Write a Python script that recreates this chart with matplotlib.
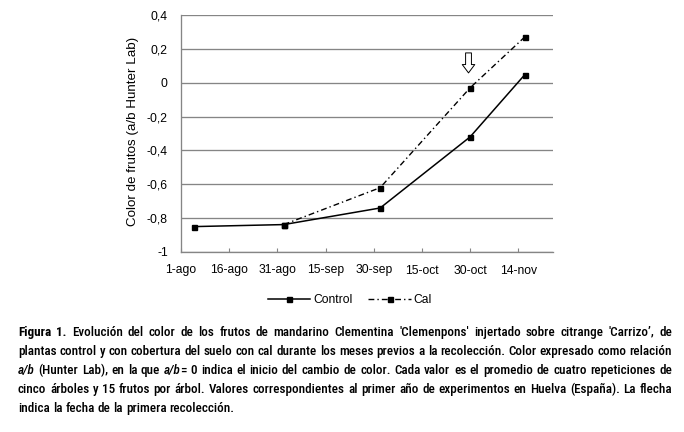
import math
import numpy as np
import matplotlib
matplotlib.use('Agg')
import matplotlib.pyplot as plt
from matplotlib import font_manager
from matplotlib.transforms import IdentityTransform
from matplotlib.ticker import FuncFormatter, FixedLocator

# ---------------- data ----------------
sample_dates = ['2009-08-05', '2009-09-02', '2009-10-02', '2009-10-30', '2009-11-16']
control = [-0.85, -0.838, -0.74, -0.32, 0.047]
cal = [np.nan, -0.838, -0.62, -0.03, 0.27]
series_names = ['Control', 'Cal']
tick_dates = ['2009-08-01', '2009-08-16', '2009-08-31', '2009-09-15',
              '2009-09-30', '2009-10-15', '2009-10-30', '2009-11-14']
tick_labels = ['1-ago', '16-ago', '31-ago', '15-sep', '30-sep', '15-oct', '30-oct', '14-nov']
y_ticks = [-1, -0.8, -0.6, -0.4, -0.2, 0, 0.2, 0.4]
first_harvest = '2009-10-30'
y_label = 'Color de frutos (a/b Hunter Lab)'

origin = np.datetime64('2009-08-01')
def days(d):
    return (np.array(d, dtype='datetime64[D]') - origin).astype(int)

x = days(sample_dates)
xt = days(tick_dates)
xh = int(days([first_harvest])[0])

names = {f.name for f in font_manager.fontManager.ttflist}
chart_font = ['Liberation Sans', 'DejaVu Sans']
cap_font = 'Liberation Sans'
for cand in ['Liberation Sans Narrow', 'Roboto Condensed', 'DejaVu Sans Condensed',
             'Open Sans Condensed', 'Liberation Sans']:
    if cand in names:
        cap_font = cand
        break
plt.rcParams['font.family'] = chart_font
plt.rcParams['lines.scale_dashes'] = False

W, H = 684, 432
DPI = 100
fig = plt.figure(figsize=(W / DPI, H / DPI), dpi=DPI)
L, R, T, B = 181, 553, 15, 252
ax = fig.add_axes([L / W, 1 - B / H, (R - L) / W, (B - T) / H])

fs = 8.7
grid_c = '#858585'
ax.set_xlim(0, 115.8)
ax.set_ylim(-1, 0.4)
ax.yaxis.set_major_locator(FixedLocator(y_ticks))
ax.yaxis.set_major_formatter(FuncFormatter(lambda v, p: ('%g' % round(v, 1)).replace('.', ',')))
ax.set_xticks(xt)
ax.set_xticklabels(tick_labels)
ax.grid(axis='y', color=grid_c, lw=0.95)
ax.set_axisbelow(True)
for s in ['top', 'right']:
    ax.spines[s].set_visible(False)
for s in ['left', 'bottom']:
    ax.spines[s].set_color(grid_c)
    ax.spines[s].set_linewidth(0.95)
ax.tick_params(axis='x', direction='in', length=3, width=0.8, color=grid_c,
               labelsize=fs, pad=9)
ax.tick_params(axis='y', length=0, labelsize=fs, pad=9.5)

l1, = ax.plot(x, control, color='black', lw=1.1, marker='s', ms=3.6,
              label=series_names[0], zorder=3)
l2, = ax.plot(x, cal, color='black', lw=1.0, marker='s', ms=3.6,
              linestyle=(0, (4.2, 2.2, 1.0, 2.2)), label=series_names[1], zorder=2)

ax.annotate('', xy=(xh - 0.5, 0.058), xytext=(xh - 0.5, 0.176),
            arrowprops=dict(arrowstyle='simple,head_length=0.6,head_width=0.9,tail_width=0.42',
                            fc='white', ec='black', lw=0.7, shrinkA=0, shrinkB=0,
                            mutation_scale=10))

fig.text(133 / W, 1 - 131 / H, y_label, rotation=90, ha='center', va='center', fontsize=9.6)

fig.legend(handles=[l1, l2], loc='center', bbox_to_anchor=(350 / W, 1 - 300 / H),
           ncol=2, frameon=False, fontsize=fs, handlelength=3.5, handletextpad=0.25,
           columnspacing=1.3, borderpad=0)

# ---------------- caption (justified, one text per word) ----------------
cap_lines = [
    [[('Figura', 'b')], [('1.', 'b')], 'Evolución', 'del', 'color', 'de', 'los', 'frutos', 'de',
     'mandarino', 'Clementina', "'Clemenpons'", 'injertado', 'sobre', 'citrange', "'Carrizo’,", 'de'],
    'plantas control y con cobertura del suelo con cal durante los meses previos a la recolección. Color expresado como relación'.split(),
    [[('a/b', 'i')], '(Hunter', 'Lab),', 'en', 'la', 'que', [('a/b', 'i'), ('=', 'n')], '0'] +
    'indica el inicio del cambio de color. Cada valor es el promedio de cuatro repeticiones de'.split(),
    'cinco árboles y 15 frutos por árbol. Valores correspondientes al primer año de experimentos en Huelva (España). La flecha'.split(),
    'indica la fecha de la primera recolección.'.split(),
]
cap_left, cap_right = 18, 672
cap_base = [336.3, 355.3, 374.3, 393.3, 412.3]
styles = {'n': dict(weight='medium', style='normal'),
          'b': dict(weight='bold', style='normal'),
          'i': dict(weight='medium', style='italic')}

renderer = fig.canvas.get_renderer()
try:
    from matplotlib.backends.backend_agg import get_hinting_flag
except Exception:
    get_hinting_flag = None

def mk(s, st, size):
    return fig.text(0, 0, s, fontsize=size, family=[cap_font, 'DejaVu Sans'],
                    transform=IdentityTransform(), ha='left', va='baseline', **styles[st])

def width(s, st, size):
    t = mk(s, st, size)
    w = t.get_window_extent(renderer).width
    t.remove()
    return w

def gapw(ch, st, size):
    return width('a' + ch + 'a', st, size) - width('aa', st, size)

def pixel_shift(t, s, y_disp):
    """Integer correction so that every word's raster baseline lands on the same row."""
    try:
        font = renderer._prepare_font(t.get_fontproperties())
        font.set_text(s, 0, flags=get_hinting_flag())
        _, h26 = font.get_width_height()
        d = font.get_descent() / 64.0
        a = h26 / 64.0 - d
        y_agg = H - y_disp
        P = round(y_agg + d) - int(h26 // 64) + math.floor(a)
        return round(y_agg) - P
    except Exception:
        return 0

norm = [[[(w, 'n')] if isinstance(w, str) else w for w in words] for words in cap_lines]

def word_w(segs, size):
    return sum(width(s, st, size) for s, st in segs)

size0 = 10.0
sw0 = gapw(' ', 'n', size0)
nat = [sum(word_w(w, size0) for w in words) + sw0 * (len(words) - 1) for words in norm[:-1]]
cap_fs = size0 * (cap_right - cap_left - 8) / max(nat)
sw = gapw(' ', 'n', cap_fs)

for li, words in enumerate(norm):
    wws = [word_w(w, cap_fs) for w in words]
    if li < len(norm) - 1:
        g = (cap_right - cap_left - sum(wws)) / (len(words) - 1)
    else:
        g = sw
    xx = cap_left
    ybase = H - cap_base[li]
    for segs, wv in zip(words, wws):
        xs = xx
        for s, st in segs:
            t = mk(s, st, cap_fs)
            k = pixel_shift(t, s, ybase)
            t.set_position((xs, ybase - k))
            xs += width(s, st, cap_fs)
        xx += wv + g

fig.savefig('out.png', dpi=DPI)
